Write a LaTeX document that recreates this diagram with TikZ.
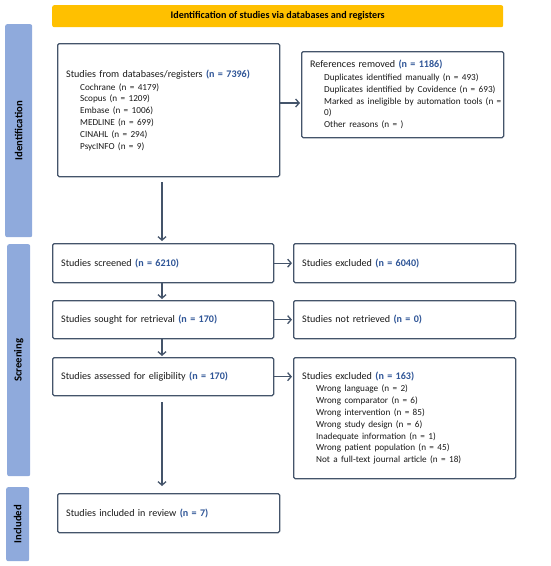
\documentclass[tikz,border=0pt]{standalone}
\usepackage{fontspec}
\setmainfont{Carlito}
\usetikzlibrary{arrows.meta}
\definecolor{boxline}{HTML}{44546A}
\definecolor{sidebar}{HTML}{8FAADC}
\definecolor{banner}{HTML}{FFC000}
\definecolor{numblue}{HTML}{2F5597}
\definecolor{txt}{HTML}{1A1A1A}
\newcommand{\nb}[1]{\textcolor{numblue}{\textbf{#1}}}
\newcommand{\itm}[1]{\hspace*{14pt}{\fontsize{9.2}{11.8}\selectfont\mbox{#1}}}
\begin{document}
\begin{tikzpicture}[x=1pt,y=-1pt,
  flowbox/.style={draw=boxline,line width=1.3pt,rounded corners=1.5pt,fill=white,
    anchor=north west,inner xsep=8.5pt,inner ysep=0pt,align=left,text=txt,
    font=\fontsize{10.1}{11.8}\selectfont},
  sidebox/.style={fill=sidebar,rounded corners=2pt,anchor=north west,inner sep=0pt},
  sidelabel/.style={rotate=90,font=\fontsize{10.7}{12}\selectfont\bfseries,text=black},
  flowarrow/.style={draw=boxline,line width=1.3pt,-{Straight Barb[length=3.5pt,width=8pt]}}]
\useasboundingbox (0,0) rectangle (550,566);
% banner
\node[fill=banner,rounded corners=2pt,anchor=north west,minimum width=451pt,minimum height=22pt,
  inner sep=0pt,font=\fontsize{10.1}{12}\selectfont\bfseries,text=black] (ban) at (52,5)
  {Identification of studies via databases and registers};
% side bars
\node[sidebox,minimum width=27pt,minimum height=213pt] (sid) at (5,24) {};
\node[sidelabel] (sidl) at (sid.center) {Identification};
\node[sidebox,minimum width=23pt,minimum height=232pt] (sscr) at (7,244) {};
\node[sidelabel] (sscrl) at (sscr.center) {Screening};
\node[sidebox,minimum width=23pt,minimum height=74pt] (sinc) at (6,487) {};
\node[sidelabel] (sincl) at (sinc.center) {Included};
% boxes
\node[flowbox,minimum width=222pt,minimum height=133pt,text width=205pt] (db) at (57,43)
  {Studies from databases/registers \nb{(n = 7396)}\\[1pt]
   \itm{Cochrane (n = 4179)}\\
   \itm{Scopus (n = 1209)}\\
   \itm{Embase (n = 1006)}\\
   \itm{MEDLINE (n = 699)}\\
   \itm{CINAHL (n = 294)}\\
   \itm{PsycINFO (n = 9)}};
\node[flowbox,minimum width=202pt,minimum height=86pt,text width=185pt] (rem) at (301,51)
  {References removed \nb{(n = 1186)}\\[1pt]
   \itm{Duplicates identified manually (n = 493)}\\
   \itm{Duplicates identified by Covidence (n = 693)}\\
   \itm{Marked as ineligible by automation tools (n =}\\
   \itm{0)}\\
   \itm{Other reasons (n = )}};
\node[flowbox,minimum width=221pt,minimum height=39pt,text width=204pt] (scr) at (52,243)
  {Studies screened \nb{(n = 6210)}};
\node[flowbox,minimum width=222pt,minimum height=39pt,text width=205pt] (exc1) at (293,243)
  {Studies excluded \nb{(n = 6040)}};
\node[flowbox,minimum width=221pt,minimum height=38pt,text width=204pt] (sou) at (52,300)
  {Studies sought for retrieval \nb{(n = 170)}};
\node[flowbox,minimum width=222pt,minimum height=38pt,text width=205pt] (nre) at (293,300)
  {Studies not retrieved \nb{(n = 0)}};
\node[flowbox,minimum width=221pt,minimum height=38pt,text width=204pt] (ass) at (52,357)
  {Studies assessed for eligibility \nb{(n = 170)}};
\node[flowbox,minimum width=222pt,minimum height=121pt,text width=205pt] (exc2) at (293,357)
  {Studies excluded \nb{(n = 163)}\\[0.5pt]
   \itm{Wrong language (n = 2)}\\
   \itm{Wrong comparator (n = 6)}\\
   \itm{Wrong intervention (n = 85)}\\
   \itm{Wrong study design (n = 6)}\\
   \itm{Inadequate information (n = 1)}\\
   \itm{Wrong patient population (n = 45)}\\
   \itm{Not a full-text journal article (n = 18)}};
\node[flowbox,minimum width=222pt,minimum height=39pt,text width=205pt] (inc) at (57,493)
  {Studies included in review \nb{(n = 7)}};
% arrows
\coordinate (a1s) at (162,176);
\coordinate (a1e) at (162,243);
\draw[flowarrow,shorten <=6pt,shorten >=2pt] (a1s) -- (a1e);
\draw[flowarrow,shorten >=1pt] (db.east |- 0,103) -- (rem.west |- 0,103);
\draw[flowarrow,shorten >=1pt] (scr) -- (exc1);
\draw[flowarrow,shorten >=1pt] (sou) -- (nre);
\draw[flowarrow,shorten >=1pt] (ass) -- (exc2.west |- ass.east);
\coordinate (a2s) at (162,282);
\coordinate (a2e) at (162,300);
\draw[flowarrow,shorten >=1pt] (a2s) -- (a2e);
\coordinate (a3s) at (162,338);
\coordinate (a3e) at (162,357);
\draw[flowarrow,shorten >=1pt] (a3s) -- (a3e);
\coordinate (a4s) at (162,395);
\coordinate (a4e) at (162,493);
\draw[flowarrow,shorten <=7pt,shorten >=7pt] (a4s) -- (a4e);
\end{tikzpicture}
\end{document}
